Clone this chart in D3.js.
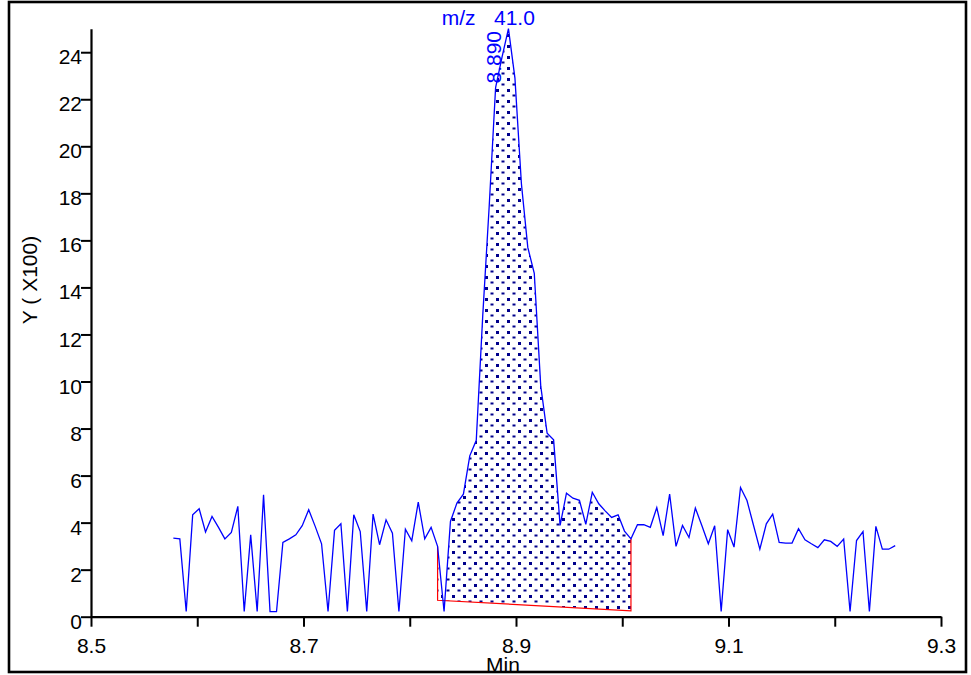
<!DOCTYPE html>
<html>
<head>
<meta charset="utf-8">
<script src="https://cdn.jsdelivr.net/npm/d3@7"></script>
<style>
  html, body { margin: 0; padding: 0; background: #fff; }
  svg { display: block; }
  text { font-family: "Liberation Sans", Arial, sans-serif; }
</style>
</head>
<body>
<svg id="chart" width="971" height="675"></svg>
<script>
// ---- data ----
const times = [
  8.5775, 8.5836, 8.5896, 8.5957, 8.6018, 8.6078, 8.6139, 8.6200, 8.6260, 8.6321,
  8.6382, 8.6442, 8.6503, 8.6564, 8.6624, 8.6685, 8.6746, 8.6806, 8.6867, 8.6928,
  8.6988, 8.7049, 8.7110, 8.7170, 8.7231, 8.7292, 8.7352, 8.7413, 8.7473, 8.7534,
  8.7595, 8.7655, 8.7716, 8.7777, 8.7837, 8.7898, 8.7959, 8.8019, 8.8080, 8.8141,
  8.8201, 8.8262, 8.8323, 8.8383, 8.8444, 8.8505, 8.8565, 8.8626, 8.8687, 8.8747,
  8.8808, 8.8869, 8.8929, 8.8990, 8.9051, 8.9111, 8.9172, 8.9233, 8.9293, 8.9354,
  8.9415, 8.9475, 8.9536, 8.9597, 8.9657, 8.9718, 8.9779, 8.9839, 8.9900, 8.9961,
  9.0021, 9.0082, 9.0143, 9.0203, 9.0264, 9.0325, 9.0385, 9.0446, 9.0506, 9.0567,
  9.0628, 9.0688, 9.0749, 9.0810, 9.0870, 9.0931, 9.0992, 9.1052, 9.1113, 9.1174,
  9.1234, 9.1295, 9.1356, 9.1416, 9.1477, 9.1538, 9.1598, 9.1659, 9.1720, 9.1780,
  9.1841, 9.1902, 9.1962, 9.2023, 9.2084, 9.2144, 9.2205, 9.2266, 9.2326, 9.2387,
  9.2448, 9.2508, 9.2569
];
const intensity = [ // Y (x100)
  3.34, 3.31, 0.22, 4.33, 4.59, 3.60, 4.26, 3.80, 3.31, 3.58,
  4.69, 0.22, 3.48, 0.22, 5.18, 0.22, 0.22, 3.16, 3.31, 3.48,
  3.87, 4.55, 3.84, 3.10, 0.22, 3.67, 3.95, 0.22, 4.33, 3.62,
  0.22, 4.36, 3.06, 4.12, 3.55, 0.22, 3.72, 3.23, 4.87, 3.31,
  3.80, 2.99, 0.22, 4.05, 4.83, 5.21, 6.84, 7.50, 12.8, 17.4,
  22.5, 23.8, 25.0, 22.9, 18.4, 15.7, 14.6, 9.80, 7.80, 7.52,
  3.88, 5.25, 5.04, 4.95, 3.93, 5.29, 4.80, 4.50, 4.22, 4.33,
  3.64, 3.31, 3.91, 3.91, 3.80, 4.64, 3.45, 5.21, 2.99, 3.88,
  3.37, 4.62, 3.88, 3.10, 3.87, 0.22, 3.70, 2.96, 5.49, 4.94,
  3.91, 2.87, 3.95, 4.36, 3.16, 3.13, 3.13, 3.74, 3.27, 3.10,
  2.94, 3.27, 3.20, 2.99, 3.30, 0.22, 3.24, 3.62, 0.22, 3.84,
  2.87, 2.87, 3.02
];
const peakStartIndex = 41;
const peakEndIndex = 71;
const baselineTimes = [8.8262, 9.0082];
const baselineValues = [0.70, 0.25];
const apexTime = 8.8929;
const apexLabel = "8.890";
const titlePrefix = "m/z";
const titleMass = "41.0";
const xTickValues = [8.5, 8.6, 8.7, 8.8, 8.9, 9.0, 9.1, 9.2, 9.3];
const xTickLabels = ["8.5", "", "8.7", "", "8.9", "", "9.1", "", "9.3"];
const yTickValues = [0, 2, 4, 6, 8, 10, 12, 14, 16, 18, 20, 22, 24];
const yTickLabels = ["0", "2", "4", "6", "8", "10", "12", "14", "16", "18", "20", "22", "24"];
const xTitle = "Min";
const yTitle = "Y ( X100)";

// ---- drawing ----
const svg = d3.select("#chart");
svg.append("rect").attr("width", 971).attr("height", 675).attr("fill", "#fff");

const x = d3.scaleLinear().domain([8.5, 9.3]).range([91, 941]);
const y = d3.scaleLinear().domain([0, 25]).range([616.7, 28.7]);

const defs = svg.append("defs");
const pat = defs.append("pattern").attr("id", "dots")
  .attr("patternUnits", "userSpaceOnUse").attr("width", 11).attr("height", 11);
pat.append("rect").attr("x", 0).attr("y", 0).attr("width", 11).attr("height", 11).attr("fill", "#fff");
pat.append("rect").attr("x", 1).attr("y", 1).attr("width", 3).attr("height", 3).attr("fill", "#00008b");
pat.append("rect").attr("x", 6.5).attr("y", 6.5).attr("width", 3).attr("height", 2).attr("fill", "#00008b");

const pts = times.map((t, i) => [t, intensity[i]]);

// peak area
const areaPts = pts.slice(peakStartIndex, peakEndIndex + 1)
  .concat([[baselineTimes[1], baselineValues[1]], [baselineTimes[0], baselineValues[0]]]);
svg.append("path")
  .attr("d", d3.line().x(d => x(d[0])).y(d => y(d[1]))(areaPts) + "Z")
  .attr("fill", "url(#dots)")
  .attr("stroke", "none");

// baseline (red)
const redPts = [
  [baselineTimes[0], intensity[peakStartIndex]],
  [baselineTimes[0], baselineValues[0]],
  [baselineTimes[1], baselineValues[1]],
  [baselineTimes[1], intensity[peakEndIndex]]
];
svg.append("path")
  .attr("d", d3.line().x(d => x(d[0])).y(d => y(d[1]))(redPts))
  .attr("fill", "none").attr("stroke", "#ff0000").attr("stroke-width", 1.2);

// chromatogram trace
svg.append("path")
  .attr("d", d3.line().x(d => x(d[0])).y(d => y(d[1]))(pts))
  .attr("fill", "none").attr("stroke", "#0000ff").attr("stroke-width", 1.3)
  .attr("stroke-linejoin", "miter");

// axes
const xAxis = d3.axisBottom(x).tickValues(xTickValues)
  .tickFormat((d, i) => xTickLabels[i]).tickSize(10).tickSizeOuter(0).tickPadding(11);
const gx = svg.append("g").attr("transform", `translate(0,${y(0)})`).call(xAxis);
gx.select(".domain").attr("stroke", "#000").attr("stroke-width", 2.2);
gx.selectAll(".tick line").attr("stroke", "#000").attr("stroke-width", 2);
gx.selectAll(".tick text").attr("font-size", 21).attr("fill", "#000")
  .attr("font-family", "'Liberation Sans', Arial, sans-serif");

const yAxis = d3.axisLeft(y).tickValues(yTickValues)
  .tickFormat((d, i) => yTickLabels[i]).tickSize(10).tickSizeOuter(0);
const gy = svg.append("g").attr("transform", `translate(${x(8.5)},0)`).call(yAxis);
gy.select(".domain").attr("stroke", "#000").attr("stroke-width", 2.2);
gy.selectAll(".tick line").attr("stroke", "#000").attr("stroke-width", 2);
gy.selectAll(".tick text").attr("font-size", 21).attr("fill", "#000")
  .attr("font-family", "'Liberation Sans', Arial, sans-serif")
  .attr("x", -9).attr("dy", "0.55em");

// axis titles
svg.append("text").attr("x", 503).attr("y", 672).attr("text-anchor", "middle")
  .attr("font-size", 21).attr("fill", "#000").text(xTitle);
svg.append("text").attr("transform", "translate(37,280) rotate(-90)")
  .attr("text-anchor", "middle").attr("font-size", 21).attr("fill", "#000").text(yTitle);

// title & apex label
svg.append("text").attr("x", 441.7).attr("y", 25).attr("font-size", 21)
  .attr("fill", "#0000ff").text(titlePrefix);
svg.append("text").attr("x", 494).attr("y", 25).attr("font-size", 21)
  .attr("fill", "#0000ff").text(titleMass);
svg.append("text")
  .attr("transform", `translate(${x(apexTime) - 7.5},83.5) rotate(-90)`)
  .attr("font-size", 21).attr("fill", "#0000ff").text(apexLabel);

// outer frame
svg.append("rect").attr("x", 9).attr("y", 2).attr("width", 957).attr("height", 670)
  .attr("fill", "none").attr("stroke", "#000").attr("stroke-width", 2.6);
</script>
</body>
</html>
